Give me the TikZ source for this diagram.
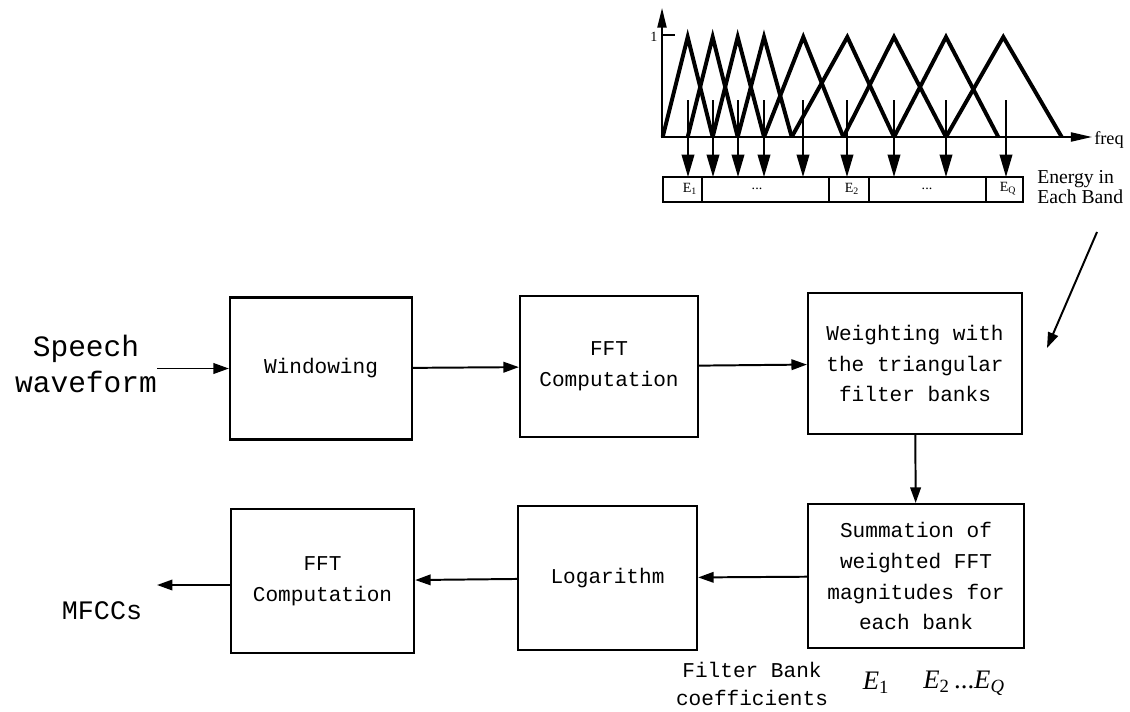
\documentclass[tikz,border=0pt]{standalone}
\usepackage{fontspec}
\setmainfont{Liberation Serif}
\setmonofont{Liberation Mono}
\usetikzlibrary{arrows.meta, positioning}

\begin{document}
\begin{tikzpicture}[x=0.025cm, y=-0.025cm,
    >={Triangle[length=11pt, width=7.5pt]},
    block/.style={draw, line width=1.5pt, align=center,
                  font=\fontsize{15}{22}\selectfont\ttfamily},
    io/.style={align=center, inner sep=0pt},
    flow/.style={->, line width=1.4pt},
    tri/.style={line width=2.8pt, line join=miter},
    thin/.style={line width=1.2pt},
    band/.style={->, line width=1.3pt, >={Triangle[length=16pt, width=9pt]}}]

    \useasboundingbox (0,0) rectangle (1130,711);

    % processing chain
    \node[block, minimum width=4.55cm, minimum height=3.55cm] (win)  at (321,368.5) {Windowing};
    \node[block, minimum width=4.45cm, minimum height=3.53cm] (fft1) at (609,366.5) {FFT\\Computation};
    \node[block, minimum width=5.35cm, minimum height=3.53cm] (wgt)  at (915,363.5) {Weighting with\\the triangular\\filter banks};
    \node[block, minimum width=5.4cm,  minimum height=3.6cm]  (sum)  at (916,576)   {Summation of\\weighted FFT\\magnitudes for\\each bank};
    \node[block, minimum width=4.48cm, minimum height=3.6cm]  (log)  at (607.5,578) {Logarithm};
    \node[block, minimum width=4.58cm, minimum height=3.6cm]  (fft2) at (322.5,581) {FFT\\Computation};

    \node[io, font=\fontsize{21}{25}\selectfont\ttfamily] (speech) at (86,364) {Speech\\waveform};
    \node[io, font=\fontsize{19}{23}\selectfont\ttfamily] (mfcc)   at (102,611) {MFCCs};
    \coordinate (out) at (157,585);

    \node[io, font=\fontsize{15}{20}\selectfont\ttfamily] (coef) at (752,684) {Filter Bank\\coefficients};
    \node[io, font=\fontsize{19}{22}\selectfont] (e1) at (876,683) {\textit{E}\textsubscript{1}};
    \node[io, font=\fontsize{19}{22}\selectfont] (eq) at (964,683) {\textit{E}\textsubscript{2}\,...\textit{E}\textsubscript{\itshape Q}};

    \draw[flow] (speech.east |- win.west) -- (win.west);
    \path[flow]
        (win)  edge (fft1)
        (fft1) edge (wgt)
        (wgt)  edge (sum)
        (sum)  edge (log)
        (log)  edge (fft2);
    \draw[flow] (fft2.west |- out) -- (out);

    % filter bank inset
    \draw[thin, ->, >={Triangle[length=14pt, width=6.5pt]}] (662,138) -- (662,8);
    \draw[thin, ->, >={Triangle[length=15pt, width=6.5pt]}] (662,137) -- (1092,137);
    \draw[thin] (662,35) -- (675,35);
    \node[io, font=\fontsize{10}{10}\selectfont] (one) at (654,37) {1};
    \node[io, anchor=west, font=\fontsize{13}{14}\selectfont] (freq) at (1094,140) {freq};

    \foreach \l/\p/\r in {662.7/687.7/712.7, 687.7/712.7/737.7, 712.7/737.7/764,
                          737.7/764/791.7, 764/803.3/843.3, 791.7/847.3/894,
                          843.3/894/946, 894/946/998.3, 946/1003.3/1061.7}
        \draw[tri] (\l,137) -- (\p,37) -- (\r,137);

    \foreach \a in {688,713,738,764,803,847,894,946,1006}
        \draw[band] (\a,100) -- (\a,177);

    \draw[thin] (663,177) rectangle (1023,202);
    \foreach \d in {702,829,869,986}
        \draw[thin] (\d,177) -- (\d,202);

    \node[io, font=\fontsize{10}{10}\selectfont] (b1) at (690,189)  {E\textsubscript{1}};
    \node[io, font=\fontsize{10}{10}\selectfont] (d1) at (757,189)  {...};
    \node[io, font=\fontsize{10}{10}\selectfont] (b2) at (852,189)  {E\textsubscript{2}};
    \node[io, font=\fontsize{10}{10}\selectfont] (d2) at (927,189)  {...};
    \node[io, font=\fontsize{10}{10}\selectfont] (bq) at (1008,189) {E\textsubscript{Q}};

    \node[io, anchor=west, align=left, font=\fontsize{14}{14.5}\selectfont] (energy) at (1037,187) {Energy in\\Each Band};

    \coordinate (from) at (1097,232);
    \coordinate (to)   at (1047,348);
    \draw[flow] (from) -- (to);
\end{tikzpicture}
\end{document}
